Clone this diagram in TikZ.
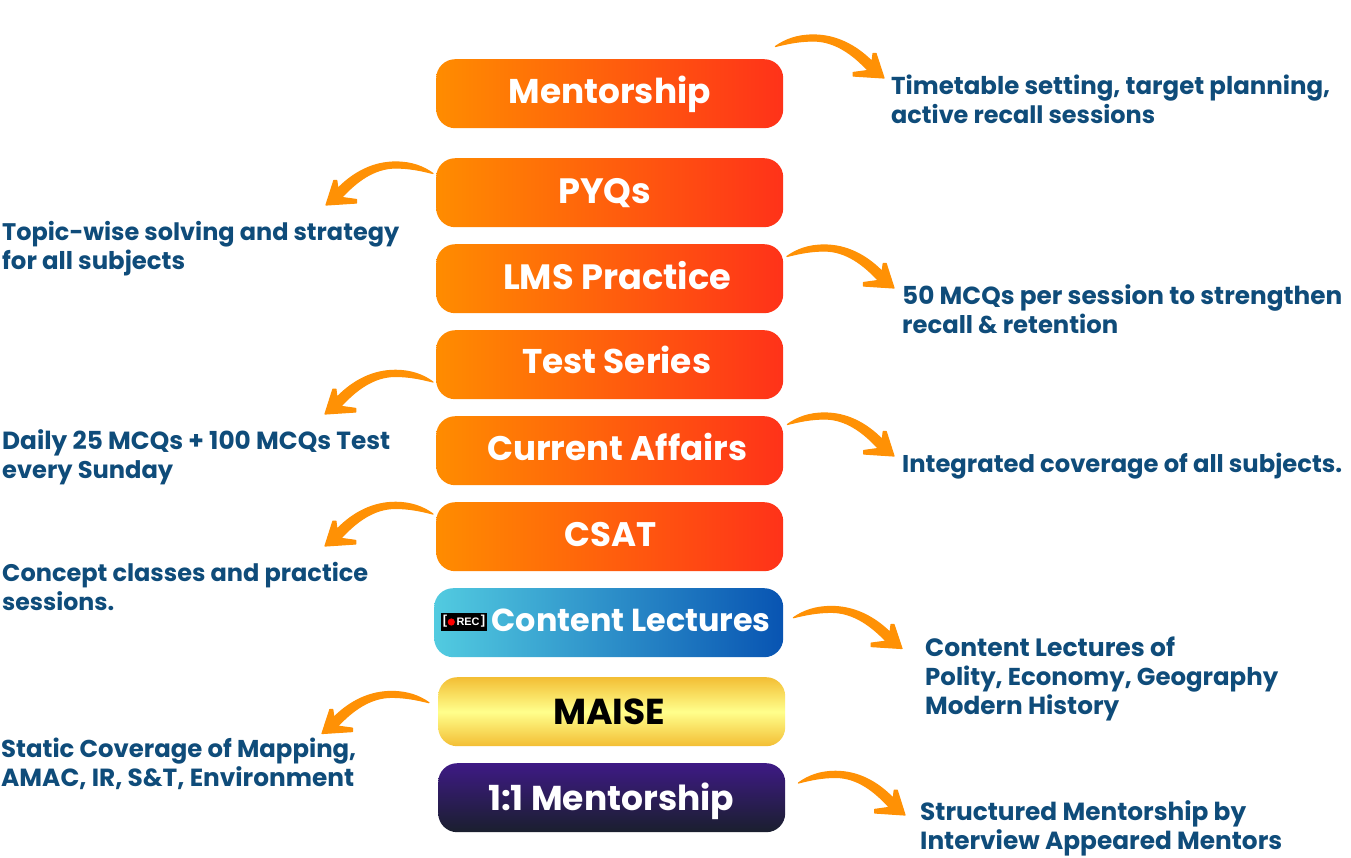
\documentclass[tikz,border=0pt]{standalone}
\usepackage{fontspec}
\setmainfont{Poppins}
\newfontfamily\recfont{Liberation Sans}
\usetikzlibrary{calc}
\definecolor{orA}{RGB}{255,140,0}
\definecolor{orB}{RGB}{255,50,25}
\definecolor{swo}{RGB}{255,145,5}
\definecolor{cyA}{RGB}{82,203,224}
\definecolor{cyB}{RGB}{8,84,178}
\definecolor{goA}{RGB}{243,190,52}
\definecolor{goB}{RGB}{255,255,140}
\definecolor{puA}{RGB}{62,26,133}
\definecolor{puB}{RGB}{26,31,46}
\definecolor{txt}{RGB}{15,76,122}
\tikzset{
  bar/.style={rectangle,rounded corners=19pt,minimum height=69pt,inner sep=0pt,anchor=north west,
    text=white,font=\fontsize{36}{36}\bfseries},
  orbar/.style={bar,minimum width=347pt,left color=orA,right color=orB,shading angle=90},
  cybar/.style={bar,minimum width=349pt,left color=cyA,right color=cyB},
  gobar/.style={bar,minimum width=347pt,top color=goA,bottom color=goA,middle color=goB,text=black},
  pubar/.style={bar,minimum width=347pt,top color=puA,bottom color=puB},
  desc/.style={anchor=base west,inner sep=0pt,align=left,text=txt,font=\fontsize{26}{29}\bfseries},
  swooshfill/.style={fill=swo,draw=swo,line width=1.2pt,line join=round},
  recitem/.style={inner sep=0pt,text=white,font=\recfont\fontsize{13}{13}\selectfont\bfseries}
}
% text in a bar: horizontal offset of text centre, baseline offset from bar centre, width, text
\newcommand\bartext[4]{\hspace*{\dimexpr2\dimexpr#1pt\relax\relax}\raisebox{-#2pt}[0pt][0pt]{\resizebox{#3pt}{!}{#4}}}
\newcommand\fitl[2]{\resizebox{#1pt}{!}{#2}}
\newcommand\lp[2]{($(\p1)+({(#1)/109*\n1},{(#2)/31.5*\n2})$)}
\newcommand\swoosh[2]{\filldraw[swooshfill] let \p1=(#1),\p2=(#2),\n1={\x2-\x1},\n2={\y2-\y1} in
  (\p1) .. controls \lp{10}{-7} and \lp{22}{-11.5} .. \lp{38}{-11.5}
  .. controls \lp{60}{-11.5} and \lp{80}{-2} .. \lp{97}{15}
  -- \lp{98}{7} -- \lp{101}{7} -- (\p2) -- \lp{78}{29.5} -- \lp{78}{26} -- \lp{93}{24}
  .. controls \lp{78}{8} and \lp{60}{-5.5} .. \lp{38}{-5.5}
  .. controls \lp{24}{-5.5} and \lp{12}{-3} .. (\p1) -- cycle;}
\begin{document}
\begin{tikzpicture}[x=1pt,y=-1pt]
\useasboundingbox[fill=white] (0,0) rectangle (1351,857);
% bars
\node[orbar] (mentor) at (436,59) {\bartext{0}{9.5}{202}{Mentorship}};
\node[orbar] (pyq) at (436,158) {\bartext{-5}{10.5}{93}{PYQs}};
\node[orbar] (lms) at (436,244) {\bartext{7.5}{10.5}{228}{LMS Practice}};
\node[orbar] (test) at (436,330) {\bartext{7}{8.5}{189}{Test Series}};
\node[orbar] (ca) at (436,416) {\bartext{7.5}{9.5}{260}{Current Affairs}};
\node[orbar] (csat) at (436,502) {\bartext{0.5}{9.5}{92}{CSAT}};
\node[cybar] (content) at (434,588) {\bartext{22.5}{8.5}{279}{Content Lectures}};
\node[gobar] (maise) at (438,677) {\bartext{-2.5}{12.5}{112}{MAISE}};
\node[pubar] (one) at (438,763) {\bartext{-0.5}{12.5}{246}{1:1 Mentorship}};
% REC badge
\node[fill=black,minimum width=46pt,minimum height=18pt,inner sep=0pt] (rec) at (464,622) {};
\fill[red] (451.3,622) circle (3.6pt);
\node[recitem] (recl) at (445,621.5) {[};
\node[recitem] (rect) at (468,622) {\fitl{23}{REC}};
\node[recitem] (recr) at (483,621.5) {]};
% descriptions
\node[desc] (d1) at (891,123) {\fitl{439}{Timetable setting, target planning,}\\ \fitl{264}{active recall sessions}};
\node[desc] (d2) at (2,269) {\fitl{397}{Topic-wise solving and strategy}\\ \fitl{183}{for all subjects}};
\node[desc] (d3) at (902,333) {\fitl{440}{50 MCQs per session to strengthen}\\ \fitl{216}{recall \& retention}};
\node[desc] (d4) at (2,478) {\fitl{388}{Daily 25 MCQs + 100 MCQs Test}\\ \fitl{171}{every Sunday}};
\node[desc] (d5) at (902,472) {\fitl{440}{Integrated coverage of all subjects.}};
\node[desc] (d6) at (2,610) {\fitl{366}{Concept classes and practice}\\ \fitl{112}{sessions.}};
\node[desc] (d7) at (925,714) {\fitl{250}{Content Lectures of}\\ \fitl{353}{Polity, Economy, Geography}\\ \fitl{194}{Modern History}};
\node[desc] (d8) at (1,786) {\fitl{355}{Static Coverage of Mapping,}\\ \fitl{353}{AMAC, IR, S\&T, Environment}};
\node[desc] (d9) at (920,849) {\fitl{326}{Structured Mentorship by}\\ \fitl{362}{Interview Appeared Mentors}};
% arrow tips
\coordinate (t1) at (884,78);
\coordinate (t2) at (326,205);
\coordinate (t3) at (894,288);
\coordinate (t4) at (325,414);
\coordinate (t5) at (894,456);
\coordinate (t6) at (325,546);
\coordinate (t7) at (902,648.5);
\coordinate (t8) at (322,733.5);
\coordinate (t9) at (905,815);
% arrows
\swoosh{$(mentor.north east)+(-8,-12.5)$}{t1}
\swoosh{$(pyq.north west)+(-3,15.5)$}{t2}
\swoosh{$(lms.north east)+(3.5,12.5)$}{t3}
\swoosh{$(test.north west)+(-3,52)$}{t4}
\swoosh{$(ca.north east)+(4,8.5)$}{t5}
\swoosh{$(csat.north west)+(-3,12)$}{t6}
\swoosh{$(content.north east)+(10,29.7)$}{t7}
\swoosh{$(maise.north west)+(-9,25.7)$}{t8}
\swoosh{$(one.north east)+(13,20)$}{t9}
\end{tikzpicture}
\end{document}
